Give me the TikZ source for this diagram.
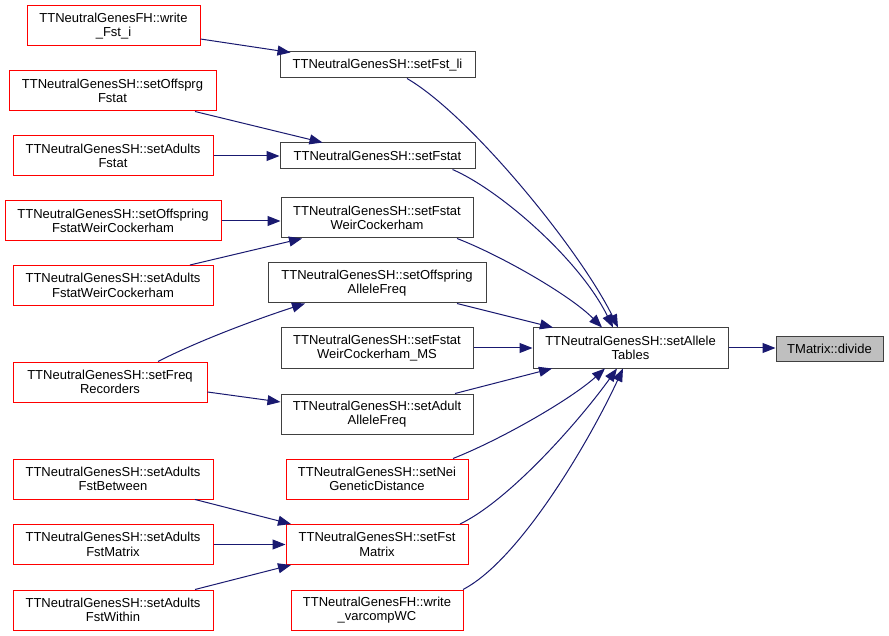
\documentclass[tikz,border=0pt]{standalone}
\usepackage{fontspec}
\setmainfont{Liberation Sans}
\usetikzlibrary{calc,arrows.meta}
\definecolor{edgeblue}{HTML}{191970}
\definecolor{boxred}{HTML}{FF0000}
\definecolor{boxgray}{HTML}{404040}
\definecolor{fillgray}{HTML}{BFBFBF}
\tikzset{
  basebox/.style={draw, line width=1pt, align=center, inner sep=0pt, font=\fontsize{13}{14.5}\selectfont},
  redbox/.style={basebox, draw=boxred},
  blkbox/.style={basebox, draw=boxgray},
  graybox/.style={basebox, draw=boxgray, fill=fillgray},
  edge/.style={draw=edgeblue, line width=1pt, -{Triangle[length=13pt,width=10pt]}}
}
\begin{document}
\begin{tikzpicture}[x=1pt,y=-1pt]
\fill[white] (0,0) rectangle (889,636);
\useasboundingbox (0,0) rectangle (889,636);
% left column
\node[redbox, minimum width=173pt, minimum height=40pt] (n1) at (113.5,26) {TTNeutralGenesFH::write\\\_Fst\_i};
\node[redbox, minimum width=207pt, minimum height=40pt] (n2) at (112.5,91) {TTNeutralGenesSH::setOffsprg\\Fstat};
\node[redbox, minimum width=200pt, minimum height=40pt] (n3) at (113,156) {TTNeutralGenesSH::setAdults\\Fstat};
\node[redbox, minimum width=216pt, minimum height=40pt] (n4) at (113,221) {TTNeutralGenesSH::setOffspring\\FstatWeirCockerham};
\node[redbox, minimum width=200pt, minimum height=40pt] (n5) at (113,285.5) {TTNeutralGenesSH::setAdults\\FstatWeirCockerham};
\node[redbox, minimum width=194pt, minimum height=40pt] (n6) at (110,382) {TTNeutralGenesSH::setFreq\\Recorders};
\node[redbox, minimum width=200pt, minimum height=40pt] (n7) at (113,479) {TTNeutralGenesSH::setAdults\\FstBetween};
\node[redbox, minimum width=200pt, minimum height=40pt] (n8) at (113,544.5) {TTNeutralGenesSH::setAdults\\FstMatrix};
\node[redbox, minimum width=200pt, minimum height=40pt] (n9) at (113,610) {TTNeutralGenesSH::setAdults\\FstWithin};
% middle column
\node[blkbox, minimum width=195pt, minimum height=26pt] (m1) at (377.5,65) {TTNeutralGenesSH::setFst\_li};
\node[blkbox, minimum width=195pt, minimum height=26pt] (m2) at (377.5,156) {TTNeutralGenesSH::setFstat};
\node[blkbox, minimum width=192pt, minimum height=40pt] (m3) at (377,218) {TTNeutralGenesSH::setFstat\\WeirCockerham};
\node[blkbox, minimum width=218pt, minimum height=40pt] (m4) at (377,283) {TTNeutralGenesSH::setOffspring\\AlleleFreq};
\node[blkbox, minimum width=192pt, minimum height=40pt] (m5) at (377,348) {TTNeutralGenesSH::setFstat\\WeirCockerham\_MS};
\node[blkbox, minimum width=192pt, minimum height=40pt] (m6) at (377,414) {TTNeutralGenesSH::setAdult\\AlleleFreq};
\node[redbox, minimum width=182pt, minimum height=40pt] (m7) at (377,479) {TTNeutralGenesSH::setNei\\GeneticDistance};
\node[redbox, minimum width=182pt, minimum height=40pt] (m8) at (377,544.5) {TTNeutralGenesSH::setFst\\Matrix};
\node[redbox, minimum width=172pt, minimum height=40pt] (m9) at (377,610) {TTNeutralGenesFH::write\\\_varcompWC};
% center and right
\node[blkbox, minimum width=195pt, minimum height=40pt] (c) at (630.5,348) {TTNeutralGenesSH::setAllele\\Tables};
\node[graybox, minimum width=107pt, minimum height=24pt] (d) at (829.5,349) {TMatrix::divide};
% edges
\draw[edge] ($(n1.east)+(0,13)$) -- ($(m1.north west)+(11,1)$);
\draw[edge] ($(m1.south)+(29.5,0)$) .. controls (470,115) and (580,250) .. ($(c.north)+(-12.5,0)$);
\draw[edge] ($(n2.south)+(82.5,0)$) -- ($(m2.north)+(-55,0)$);
\draw[edge] (n3.east) -- (m2.west);
\draw[edge] ($(m2.south)+(75,0)$) .. controls (500,190) and (580,260) .. ($(c.north)+(-17.5,0)$);
\draw[edge] (n4.east) -- (n4.east -| m3.west);
\draw[edge] ($(n5.north)+(77,0)$) -- ($(m3.south)+(-75,0)$);
\draw[edge] ($(m3.south)+(80,0)$) .. controls (500,255) and (570,295) .. ($(c.north)+(-28.5,0)$);
\draw[edge] ($(m4.south)+(80,0)$) -- ($(c.north)+(-77.5,0)$);
\draw[edge] ($(n6.north)+(48,0)$) .. controls (200,340) and (260,318) .. ($(m4.south)+(-72,0)$);
\draw[edge] (m5.east) -- (m5.east -| c.west);
\draw[edge] ($(n6.east)+(0,10)$) -- ($(m6.west)+(0,-12)$);
\draw[edge] ($(m6.north)+(78,0)$) -- ($(c.south)+(-78.5,0)$);
\draw[edge] ($(m7.north)+(76,0)$) .. controls (500,440) and (570,400) .. ($(c.south)+(-25.5,0)$);
\draw[edge] ($(m8.north)+(83,0)$) .. controls (510,500) and (580,420) .. ($(c.south)+(-13.5,0)$);
\draw[edge] ($(m9.north)+(86,0)$) .. controls (520,560) and (590,440) .. ($(c.south)+(-7.5,0)$);
\draw[edge] ($(n7.south)+(82,0)$) -- ($(m8.north)+(-86,0)$);
\draw[edge] (n8.east) -- (m8.west);
\draw[edge] ($(n9.north)+(82,0)$) -- ($(m8.south)+(-86,0)$);
\draw[edge] (c.east) -- (c.east -| d.west);
\end{tikzpicture}
\end{document}
